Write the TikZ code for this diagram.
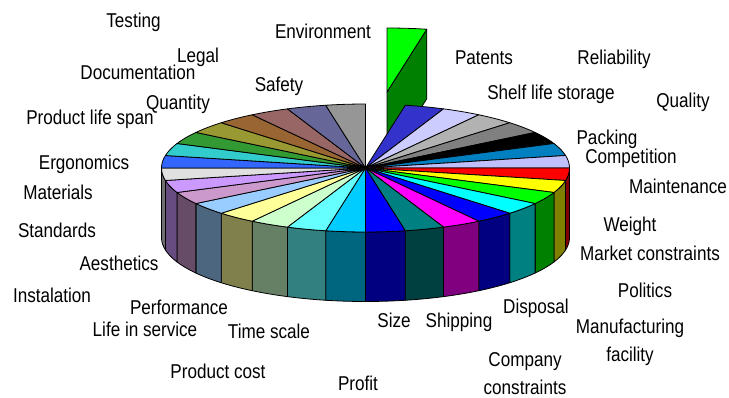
\documentclass[tikz,border=0pt]{standalone}
\usepackage{fontspec}
\setmainfont{Liberation Sans}
\newfontfamily\lblfont[FakeStretch=0.855]{Liberation Sans}
\definecolor{s0}{HTML}{00FF00}
\definecolor{s1}{HTML}{3333CC}
\definecolor{s2}{HTML}{CCCCFF}
\definecolor{s3}{HTML}{B2B2B2}
\definecolor{s4}{HTML}{808080}
\definecolor{s5}{HTML}{000000}
\definecolor{s6}{HTML}{0080C0}
\definecolor{s7}{HTML}{C0C0FF}
\definecolor{s8}{HTML}{FF0000}
\definecolor{s9}{HTML}{FFFF00}
\definecolor{s10}{HTML}{00FF00}
\definecolor{s11}{HTML}{00FFFF}
\definecolor{s12}{HTML}{0000FF}
\definecolor{s13}{HTML}{FF00FF}
\definecolor{s14}{HTML}{008080}
\definecolor{s15}{HTML}{0000FF}
\definecolor{s16}{HTML}{00CCFF}
\definecolor{s17}{HTML}{66FFFF}
\definecolor{s18}{HTML}{CCFFCC}
\definecolor{s19}{HTML}{FFFF99}
\definecolor{s20}{HTML}{99CCFF}
\definecolor{s21}{HTML}{CC99CC}
\definecolor{s22}{HTML}{CC99FF}
\definecolor{s23}{HTML}{E0E0E0}
\definecolor{s24}{HTML}{3366FF}
\definecolor{s25}{HTML}{33CCCC}
\definecolor{s26}{HTML}{339933}
\definecolor{s27}{HTML}{999933}
\definecolor{s28}{HTML}{996633}
\definecolor{s29}{HTML}{996666}
\definecolor{s30}{HTML}{666699}
\definecolor{s31}{HTML}{969696}
\tikzset{
  edge/.style={draw=black, line width=0.8pt, line join=round},
  lbl/.style={inner sep=0pt, anchor=base, font=\lblfont\fontsize{20}{24}\selectfont},
  lbl2/.style={inner sep=0pt, anchor=north, align=center, font=\lblfont\fontsize{20}{28.4}\selectfont}
}
\begin{document}
\begin{tikzpicture}[x=1pt,y=-1pt]
\useasboundingbox (0,0) rectangle (729,398);
\def\cx{365.5}\def\cy{168}\def\ra{204}\def\rb{64}\def\h{69.5}
\def\ex{387}\def\ey{92}
% exploded slice (Environment)
\path[edge, fill=s0!50!black] (\ex,\ey) -- ({\ex+\ra*sin(11.25)},{\ey-\rb*cos(11.25)}) -- ++(0,\h) -- (\ex,{\ey+\h}) -- cycle;
\path[edge, fill=s0] (\ex,\ey) -- plot[domain=0:11.25,samples=5,variable=\t] ({\ex+\ra*sin(\t)},{\ey-\rb*cos(\t)}) -- cycle;
% side walls
\foreach \k in {8,...,23} {
  \pgfmathsetmacro\ta{\k*11.25}
  \pgfmathsetmacro\tb{(\k+1)*11.25}
  \path[edge, fill=s\k!50!black] plot[domain=\ta:\tb,samples=6,variable=\t] ({\cx+\ra*sin(\t)},{\cy-\rb*cos(\t)})
    -- plot[domain=\tb:\ta,samples=6,variable=\t] ({\cx+\ra*sin(\t)},{\cy+\h-\rb*cos(\t)}) -- cycle;
}
% top faces
\foreach \k in {1,...,31} {
  \pgfmathsetmacro\ta{\k*11.25}
  \pgfmathsetmacro\tb{(\k+1)*11.25}
  \path[edge, fill=s\k] (\cx,\cy) -- plot[domain=\ta:\tb,samples=6,variable=\t] ({\cx+\ra*sin(\t)},{\cy-\rb*cos(\t)}) -- cycle;
}
% labels
\node[lbl] (environment) at (323,39) {Environment};
\node[lbl] (patents) at (484,65) {Patents};
\node[lbl] (reliability) at (614,65) {Reliability};
\node[lbl] (shelf) at (551,100) {Shelf life storage};
\node[lbl] (quality) at (683,108) {Quality};
\node[lbl] (packing) at (607,145) {Packing};
\node[lbl] (competition) at (631,163.3) {Competition};
\node[lbl] (maintenance) at (678,194) {Maintenance};
\node[lbl] (weight) at (630,232) {Weight};
\node[lbl] (market) at (650,260.5) {Market constraints};
\node[lbl] (politics) at (645,298) {Politics};
\node[lbl2] (manufacturing) at (630,318.7) {Manufacturing\\facility};
\node[lbl2] (company) at (525,352) {Company\\constraints};
\node[lbl] (disposal) at (536,313.3) {Disposal};
\node[lbl] (shipping) at (459,327) {Shipping};
\node[lbl] (size) at (394,328) {Size};
\node[lbl] (profit) at (358,390) {Profit};
\node[lbl] (productcost) at (218,378) {Product cost};
\node[lbl] (timescale) at (269,338) {Time scale};
\node[lbl] (lifeinservice) at (145,337) {Life in service};
\node[lbl] (performance) at (179,315) {Performance};
\node[lbl] (instalation) at (52,303) {Instalation};
\node[lbl] (aesthetics) at (119,271) {Aesthetics};
\node[lbl] (standards) at (57,238) {Standards};
\node[lbl] (materials) at (58,200) {Materials};
\node[lbl] (ergonomics) at (84,170) {Ergonomics};
\node[lbl] (lifespan) at (90,125) {Product life span};
\node[lbl] (quantity) at (178,110) {Quantity};
\node[lbl] (documentation) at (138,80) {Documentation};
\node[lbl] (legal) at (198,63) {Legal};
\node[lbl] (testing) at (133.5,28) {Testing};
\node[lbl] (safety) at (279,92) {Safety};
\end{tikzpicture}
\end{document}
